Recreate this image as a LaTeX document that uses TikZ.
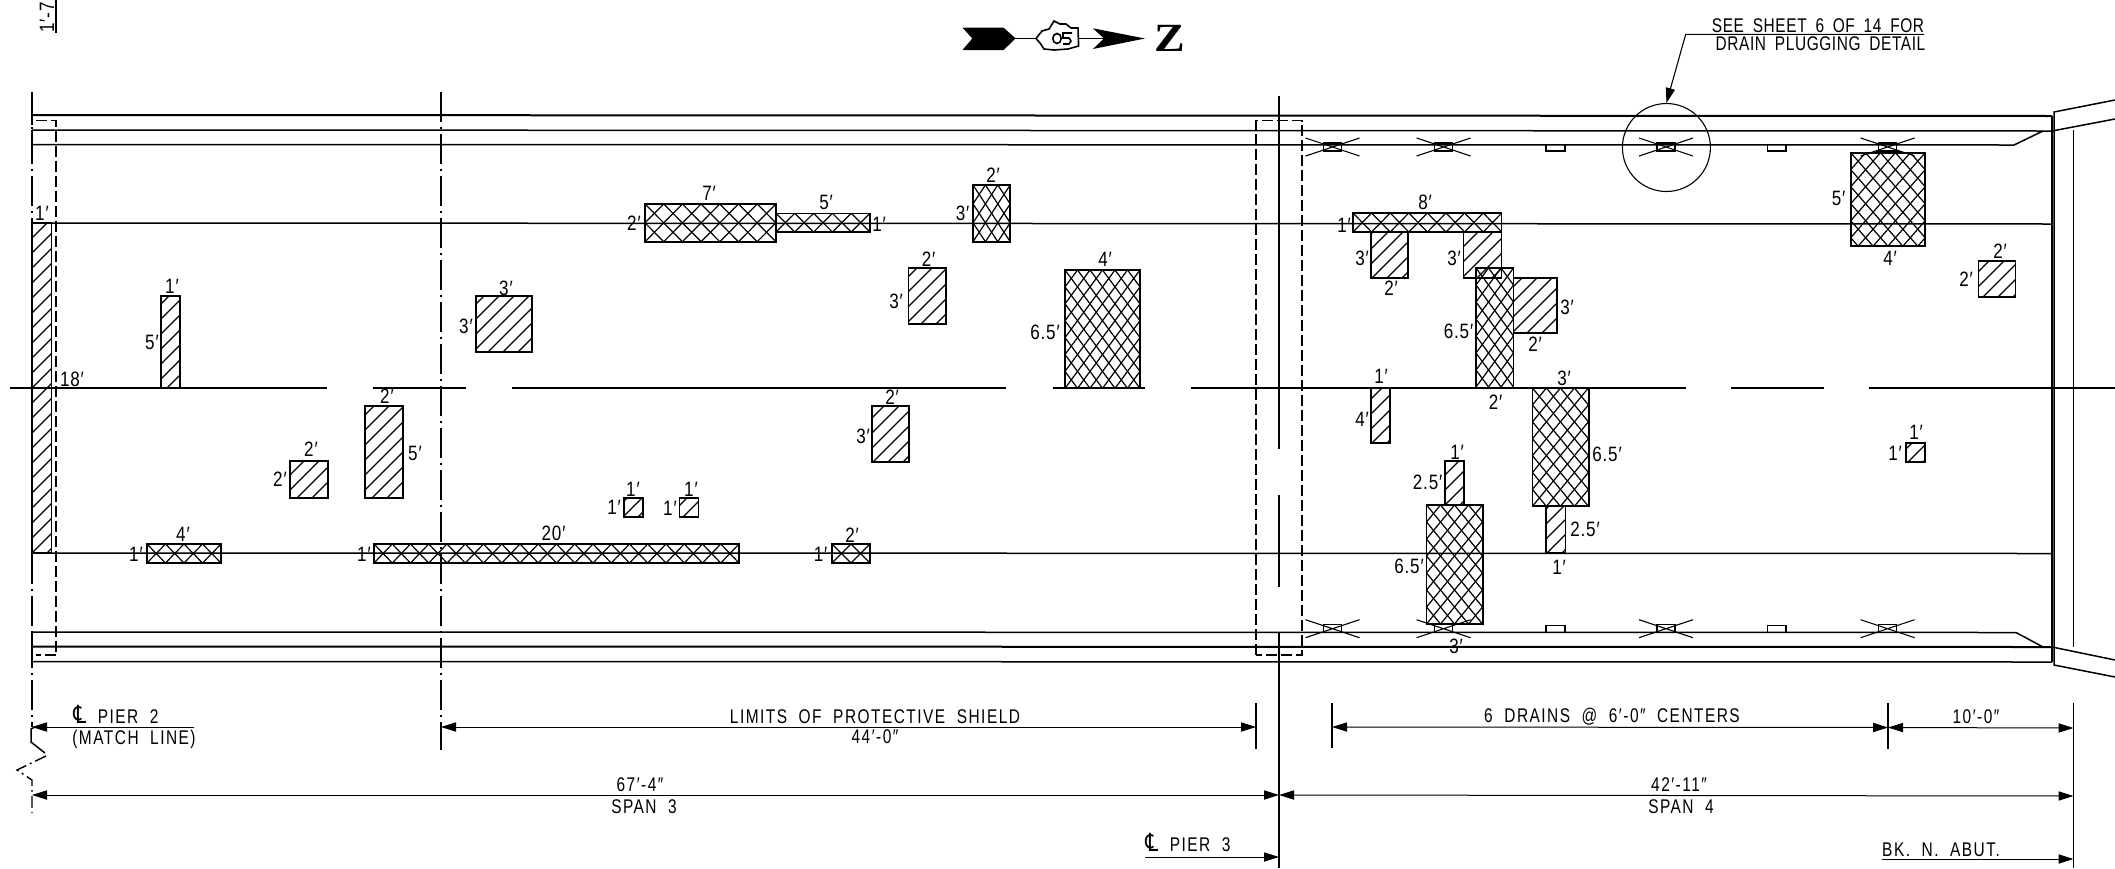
\documentclass[tikz,border=0pt]{standalone}
\usepackage{fontspec}
\usetikzlibrary{arrows.meta}
\setmainfont{Liberation Sans}
\newfontfamily\cadf[FakeStretch=0.78,WordSpace=2,LetterSpace=7.5]{Liberation Sans}
\newfontfamily\notef[FakeStretch=0.78,WordSpace=1.8,LetterSpace=3]{Liberation Sans}
\newfontfamily\labf[FakeStretch=0.82,LetterSpace=4]{Liberation Sans}
\newfontfamily\clf[FakeStretch=0.8]{DejaVu Sans}
\newfontfamily\zf{Liberation Serif}
\newcounter{lb}
\tikzset{
  lab/.style={font=\labf\fontsize{10.4}{11}\selectfont,inner sep=0pt,anchor=center},
  capt/.style={font=\cadf\fontsize{9.9}{10}\selectfont,inner sep=0pt,anchor=center},
  notet/.style={font=\notef\fontsize{9.9}{10}\selectfont,inner sep=0pt,anchor=center},
  edgeln/.style={line width=0.75pt,black},
  heavyln/.style={line width=1pt,black},
  thinln/.style={line width=0.55pt,black},
  hatchln/.style={line width=0.6pt,black},
  boxln/.style={line width=0.8pt,black},
  shield/.style={line width=0.6pt,black,dash pattern=on 5.5pt off 2pt},
  cline/.style={line width=0.55pt,black,dash pattern=on 15pt off 2.5pt on 1pt off 2.5pt},
  dimln/.style={line width=0.5pt,black,{Triangle[length=7.5pt,width=4.6pt]}-{Triangle[length=7.5pt,width=4.6pt]}},
  dimr/.style={line width=0.5pt,black,-{Triangle[length=7.5pt,width=4.6pt]}},
}
\newcommand\lb[3]{\stepcounter{lb}\node[lab] (lbl\arabic{lb}) at (#1,#2) {#3};}
\newcommand\cp[3]{\stepcounter{lb}\node[capt] (lbl\arabic{lb}) at (#1,#2) {#3};}
\newcommand\clsym{{\clf\fontsize{12.5}{12}\selectfont ℄}}
% single hatch
\newcommand\hr[4]{%
  \begin{scope}\clip (#1,#2) rectangle (#3,#4);
  \pgfmathtruncatemacro\cs{floor((#1+#2)/15)}\pgfmathtruncatemacro\ce{ceil((#3+#4)/15)}
  \foreach \k in {\cs,...,\ce}{\pgfmathsetmacro\cc{\k*15}\draw[hatchln] ({\cc-(#2)},#2)--({\cc-(#4)},#4);}
  \end{scope}
  \draw[boxln,fill=none] (#1,#2) rectangle (#3,#4);}
% cross hatch: corners, then period across and period along
\newcommand\xr[6]{%
  \begin{scope}\clip (#1,#2) rectangle (#3,#4);
  \pgfmathsetmacro\hh{((#4)-(#2))/(#6)}
  \pgfmathtruncatemacro\kn{ceil(((#3)-(#1))/(#5)+\hh)+1}
  \pgfmathtruncatemacro\km{-ceil(\hh)-1}
  \pgfmathtruncatemacro\kw{ceil(((#3)-(#1))/(#5))+1}
  \foreach \k in {0,...,\kn}{\draw[hatchln] ({#1+\k*(#5)},#2)--({#1+(\k-\hh)*(#5)},#4);}
  \foreach \k in {\km,...,\kw}{\draw[hatchln] ({#1+\k*(#5)},#2)--({#1+(\k+\hh)*(#5)},#4);}
  \end{scope}
  \draw[boxln,fill=none] (#1,#2) rectangle (#3,#4);}
% drain symbol
\newcommand\drain[2]{%
  \draw[thinln] (#1-27,#2-9)--(#1+27,#2+9) (#1-27,#2+9)--(#1+27,#2-9);
  \draw[thinln] (#1-9,#2-4) rectangle (#1+9,#2+4);}
\begin{document}
\begin{tikzpicture}[x=0.5pt,y=-0.5pt]
\useasboundingbox (0,0) rectangle (2115,868);
\fill[white] (0,0) rectangle (2115,868);
% deck lines
\draw[heavyln] (32,115)--(2052,116);
\draw[edgeln] (32,130)--(2043,131)--(2052,131);
\draw[edgeln] (32,144.5)--(2014,145)--(2043,131);
\draw[edgeln] (32,632)--(2016,632.5)--(2043,647);
\draw[heavyln] (32,646.5)--(2052,647);
\draw[edgeln] (32,661.5)--(2052,662);
% abutment
\draw[edgeln] (2052,116)--(2052,662);
\draw[edgeln] (2115,100)--(2054,112)--(2054,665)--(2115,677);
\draw[edgeln] (2052,131)--(2115,119);
\draw[edgeln] (2052,647)--(2115,660);
\draw[thinln] (2073.5,130)--(2073.5,647);
% long lines
\draw[edgeln] (32,223)--(2052,224);
\draw[edgeln] (32,553)--(2052,553.5);
\foreach \a/\b in {10/327,373/466,512/1006,1053/1145,1191/1686,1731/1824,1869/2115}{\draw[edgeln] (\a,388)--(\b,388);}
% center lines and shields
\draw[cline] (32,92)--(32,727);
\draw[edgeln] (32,115)--(32,125) (32,130)--(32,144.5) (32,632)--(32,646.5) (32,655)--(32,662);
\draw[cline] (441,92)--(441,750);
\draw[thinln] (441,647)--(441,662);
\draw[thinln] (1279,96)--(1279,449) (1279,495)--(1279,587) (1279,632)--(1279,868);
\draw[shield] (36,120.5)--(56,120.5)--(56,655)--(36,655);
\draw[shield] (1256,655)--(1256,120.5)--(1302,120.5)--(1302,655)--(1256,655);
% break line
\draw[thinln,line width=0.75pt] (35,727)--(31,729)--(31,742)--(45,753);
\draw[thinln,line width=0.7pt,dash pattern=on 6pt off 2pt on 1pt off 2pt] (46,756)--(17,770)--(32,780)--(32,813);
% single hatched
\hr{32}{223}{51.3}{553}
\hr{161}{296}{180}{388}
\hr{476}{296}{532}{352}
\hr{365}{406}{403}{498}
\hr{290}{461}{328}{498}
\hr{624}{498}{643}{517}
\hr{679.5}{498}{698.6}{517}
\hr{908.5}{268}{946}{324}
\hr{872}{406}{909}{462}
\hr{1371}{232}{1408}{278}
\hr{1463.5}{232}{1501.5}{278}
\hr{1513.6}{278}{1557}{333}
\hr{1371}{388}{1390}{443}
\hr{1546}{506}{1565.5}{553}
\hr{1444.7}{461}{1464}{505}
\hr{1978.6}{260.7}{2015.6}{297}
\hr{1906}{443}{1925}{462}
% cross hatched
\xr{147}{544}{221}{563}{18.5}{19}
\xr{374}{544}{739}{563}{18.25}{19}
\xr{832}{544}{870}{563}{19}{19}
\xr{645}{204}{776}{241.7}{18.7}{18.85}
\xr{776}{213.3}{870}{232}{18.8}{18.7}
\xr{973}{185}{1010}{241.7}{12.4}{18.9}
\xr{1065}{270}{1140}{388}{12.5}{16.9}
\xr{1353}{213}{1501.5}{232}{18.6}{19}
\xr{1476}{268}{1513.6}{388}{12.5}{17}
\xr{1532.4}{388}{1588.7}{506}{14}{16.9}
\xr{1426.5}{505}{1483}{624}{14}{17}
\xr{1850.7}{152.7}{1925}{246}{14.9}{17}
% drains
\drain{1332.5}{147}\drain{1443.6}{147}\drain{1666}{147}\drain{1887.6}{147}
\drain{1332.5}{628.7}\drain{1443.6}{628.7}\drain{1666}{628.7}\drain{1887.6}{628.7}
\draw[line width=1.2pt] (1876,152)--(1900,152);
\foreach \a/\b in {1546/1565,1767.4/1786}{
  \draw[thinln] (\a,145)--(\a,151)--(\b,151)--(\b,145);
  \draw[thinln] (\a,632)--(\a,625.7)--(\b,625.7)--(\b,632);}
% circle callout
\node[draw,circle,thinln,minimum size=44pt,inner sep=0pt] (ring) at (1666.4,147.5) {};
\coordinate (ldA) at (1924,34.3);
\coordinate (ldB) at (1685.7,34.3);
\draw[thinln,-{Triangle[length=7.5pt,width=4.6pt]}] (ldA)--(ldB)--(ring.north);
\node[notet] (note1) at (1818,25.7) {SEE SHEET 6 OF 14 FOR};
\node[notet] (note2) at (1820.5,44) {DRAIN PLUGGING DETAIL};
% labels
\lb{42}{213}{1′}\lb{72}{379}{18′}
\lb{172}{286}{1′}\lb{152}{342}{5′}
\lb{506}{288}{3′}\lb{466}{326}{3′}
\lb{387}{396}{2′}\lb{415}{453}{5′}
\lb{311}{449}{2′}\lb{280}{479}{2′}
\lb{633}{489}{1′}\lb{614}{507}{1′}
\lb{691}{489}{1′}\lb{670}{508}{1′}
\lb{183}{534}{4′}\lb{136}{554}{1′}
\lb{553.6}{533}{20′}\lb{364}{554}{1′}
\lb{852}{535}{2′}\lb{820.5}{554}{1′}
\lb{634}{223}{2′}\lb{709}{193}{7′}
\lb{826}{202}{5′}\lb{879}{224}{1′}
\lb{993}{175}{2′}\lb{962.5}{213}{3′}
\lb{928.6}{259}{2′}\lb{896}{301}{3′}
\lb{1105}{259}{4′}\lb{1045}{332}{6.5′}
\lb{892}{397}{2′}\lb{863}{436}{3′}
\lb{1425}{202}{8′}\lb{1344}{225}{1′}
\lb{1362}{258}{3′}\lb{1391}{288}{2′}
\lb{1454}{258}{3′}
\lb{1458.5}{331}{6.5′}\lb{1495.5}{402}{2′}
\lb{1567}{307}{3′}\lb{1535}{344}{2′}
\lb{1381}{376}{1′}\lb{1362}{419}{4′}
\lb{1564}{378}{3′}\lb{1607}{454}{6.5′}
\lb{1585}{529}{2.5′}\lb{1559}{567}{1′}
\lb{1457}{452}{1′}\lb{1427.6}{482}{2.5′}
\lb{1409}{566}{6.5′}\lb{1456}{646}{3′}
\lb{1838.5}{198}{5′}\lb{1890}{258}{4′}
\lb{2000}{251}{2′}\lb{1966}{279}{2′}
\lb{1916}{432}{1′}\lb{1895}{453}{1′}
% dimension coordinates
\coordinate (a1) at (441,727);\coordinate (a2) at (1256,727);
\coordinate (b1) at (1332,727);\coordinate (b2) at (1888,727.5);\coordinate (b3) at (2073.5,728);
\coordinate (c1) at (32,795);\coordinate (c2) at (1279,795);\coordinate (c3) at (2073.5,796);
\coordinate (p2) at (32,727);\coordinate (p2e) at (194,727);
\coordinate (p3) at (1279,857);\coordinate (p3e) at (1145,857);
\coordinate (n1) at (2073.5,859);\coordinate (n1e) at (1881.6,859);
\draw[dimln] (a1)--(a2);
\draw[dimln] (b1)--(b2);
\draw[dimln] (b2)--(b3);
\draw[dimln] (c1)--(c2);
\draw[dimln] (c2)--(c3);
\draw[dimr] (p2e)--(p2);
\draw[dimr] (p3e)--(p3);
\draw[dimr] (n1e)--(n1);
% extension lines
\draw[thinln] (1256,703)--(1256,749);
\draw[thinln] (1332,703)--(1332,748);
\draw[thinln] (1888,703)--(1888,749);
\draw[thinln] (2073.5,703)--(2073.5,868);
% dimension text
\cp{875}{717}{LIMITS OF PROTECTIVE SHIELD}
\cp{875}{737}{44′-0″}
\cp{1612}{717}{6 DRAINS @ 6′-0″ CENTERS}
\cp{1976}{717}{10′-0″}
\cp{640}{785}{67′-4″}
\cp{644}{807}{SPAN 3}
\cp{1679}{785}{42′-11″}
\cp{1681}{807}{SPAN 4}
\cp{116}{714}{\clsym\ PIER 2}
\cp{134}{739}{(MATCH LINE)}
\cp{1188}{842}{\clsym\ PIER 3}
\cp{1941}{850}{BK. N. ABUT.}
% top-left fragment
\stepcounter{lb}\node[lab,rotate=90,anchor=west] (lbl\arabic{lb}) at (47,33) {1′-7};
\draw[thinln] (56,0)--(56,33);
% north arrow
\fill[black] (962.5,27.7)--(1003.6,27.7)--(1015.6,38.4)--(1003.6,50)--(962.5,50)--(972.3,38.4)--cycle;
\draw[thinln] (1015,38.5)--(1036,38.5);
\draw[line width=0.8pt] (1036,38.5)--(1042,31)--(1049,29)--(1054,21)--(1060,24)--(1066,24)--(1071,28)--(1078,28)--(1078.6,46)--(1068,49)--(1054,50)--(1044,49)--(1040,43)--cycle;
\draw[line width=0.8pt] (1057,38.5) ellipse (4.2 and 5);
\draw[line width=0.8pt] (1072,33)--(1063,33)--(1063,38)--(1069,38)--(1071,41)--(1069,44)--(1063,44);
\draw[thinln] (1078.6,38.5)--(1104,38.5);
\fill[black] (1092.9,28.3)--(1145,38.5)--(1092.9,49)--(1104,38.5)--cycle;
\stepcounter{lb}\node[inner sep=0pt,xscale=1.15,font=\zf\bfseries\fontsize{20}{20}\selectfont] (lbl\arabic{lb}) at (1169.5,38.8) {Z};
\end{tikzpicture}
\end{document}
